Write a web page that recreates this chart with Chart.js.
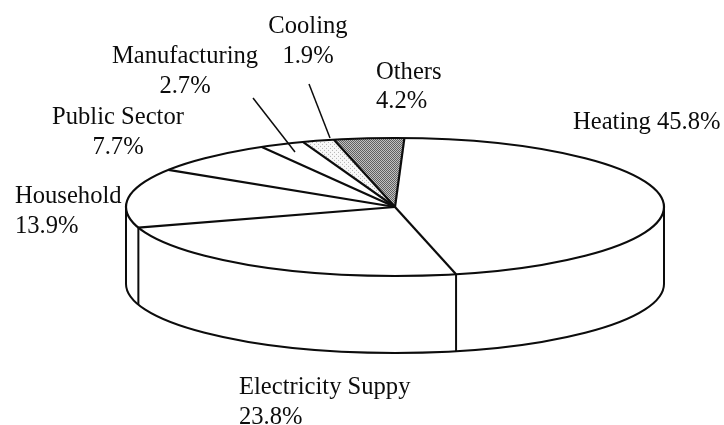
<!DOCTYPE html>
<html>
<head>
<meta charset="utf-8">
<style>html,body{margin:0;padding:0;background:#fff}canvas{display:block}</style>
<script src="https://cdn.jsdelivr.net/npm/chart.js@4"></script>
</head>
<body>
<canvas id="c" width="724" height="425"></canvas>
<script>
const categories = ["Heating", "Electricity Suppy", "Household", "Public Sector", "Manufacturing", "Cooling", "Others"];
const shares = [45.8, 23.8, 13.9, 7.7, 2.7, 1.9, 4.2];

const pieStyle = { radius: 269, squash: 69 / 269, depth: 77, rotation: 2, ink: "#0c0c0c", font: "24.6px 'Liberation Serif'" };

const labelLayout = [
  { align: "left",   x: 573, lines: [[0, 129]], inline: true },
  { align: "left",   x: 239, lines: [[0, 394], [0, 424]] },
  { align: "left",   x: 15,  lines: [[0, 203], [0, 233]] },
  { align: "center", x: 118, lines: [[0, 124], [0, 154]] },
  { align: "center", x: 185, lines: [[0, 63],  [0, 93]] },
  { align: "center", x: 308, lines: [[0, 33],  [0, 63]] },
  { align: "left",   x: 376, lines: [[0, 79],  [0, 108]] }
];
const leaderLines = [
  [253, 98, 295, 152],
  [309, 84, 330, 138]
];

function makePattern(size, paint) {
  const off = document.createElement("canvas");
  off.width = off.height = size;
  paint(off.getContext("2d"));
  const p = off.getContext("2d").createPattern(off, "repeat");
  p.setTransform(new DOMMatrix().scale(1, 1 / pieStyle.squash));
  return p;
}
const othersFill = makePattern(2, g => {
  g.fillStyle = "#c8c8c8"; g.fillRect(0, 0, 2, 2);
  g.fillStyle = "#5a5a5a"; g.fillRect(0, 0, 1, 1); g.fillRect(1, 1, 1, 1);
});
const coolingFill = makePattern(4, g => {
  g.fillStyle = "#f8f8f8"; g.fillRect(0, 0, 4, 4);
  g.fillStyle = "#b4b4b4"; g.fillRect(0, 0, 1, 1); g.fillRect(2, 2, 1, 1);
});
const sliceFills = ["#fff", "#fff", "#fff", "#fff", "#fff", coolingFill, othersFill];

const pie3d = {
  id: "pie3d",
  beforeDatasetsDraw(chart) {
    const arc = chart.getDatasetMeta(0).data[0];
    const g = chart.ctx;
    g.save();
    g.translate(arc.x, arc.y);
    g.scale(1, pieStyle.squash);
    g.translate(-arc.x, -arc.y);
  },
  afterDatasetsDraw(chart) {
    const g = chart.ctx;
    g.restore();
    const arcs = chart.getDatasetMeta(0).data;
    const { x: cx, y: cy, outerRadius: rx } = arcs[0];
    const ry = rx * pieStyle.squash, d = pieStyle.depth;
    g.save();
    g.strokeStyle = pieStyle.ink;
    g.lineJoin = "round";
    // side wall
    g.lineWidth = 2;
    g.beginPath();
    g.moveTo(cx - rx, cy);
    g.lineTo(cx - rx, cy + d);
    g.ellipse(cx, cy + d, rx, ry, 0, Math.PI, 0, true);
    g.lineTo(cx + rx, cy);
    g.stroke();
    arcs.forEach(a => {
      if (Math.sin(a.startAngle) > 0) {
        const px = cx + rx * Math.cos(a.startAngle), py = cy + ry * Math.sin(a.startAngle);
        g.beginPath(); g.moveTo(px, py); g.lineTo(px, py + d); g.stroke();
      }
    });
    // top face
    g.lineWidth = 2.2;
    g.beginPath();
    g.ellipse(cx, cy, rx, ry, 0, 0, Math.PI * 2);
    g.stroke();
    arcs.forEach(a => {
      g.beginPath();
      g.moveTo(cx, cy);
      g.lineTo(cx + rx * Math.cos(a.startAngle), cy + ry * Math.sin(a.startAngle));
      g.stroke();
    });
    // leaders
    g.lineWidth = 1.5;
    leaderLines.forEach(l => {
      g.beginPath(); g.moveTo(l[0], l[1]); g.lineTo(l[2], l[3]); g.stroke();
    });
    // labels
    g.fillStyle = pieStyle.ink;
    g.font = pieStyle.font;
    g.textBaseline = "alphabetic";
    categories.forEach((name, i) => {
      const pos = labelLayout[i], pct = shares[i].toFixed(1) + "%";
      g.textAlign = pos.align;
      if (pos.inline) {
        g.fillText(name + " " + pct, pos.x, pos.lines[0][1]);
      } else {
        g.fillText(name, pos.x, pos.lines[0][1]);
        g.fillText(pct, pos.x, pos.lines[1][1]);
      }
    });
    g.restore();
  }
};

new Chart(document.getElementById("c"), {
  type: "pie",
  data: {
    labels: categories,
    datasets: [{ data: shares, backgroundColor: sliceFills, borderWidth: 0, hoverOffset: 0 }]
  },
  options: {
    responsive: false,
    animation: false,
    devicePixelRatio: 1,
    rotation: pieStyle.rotation,
    radius: pieStyle.radius,
    layout: { padding: { left: 66, right: 0, top: 0, bottom: 11 } },
    plugins: { legend: { display: false }, tooltip: { enabled: false } }
  },
  plugins: [pie3d]
});
</script>
</body>
</html>
